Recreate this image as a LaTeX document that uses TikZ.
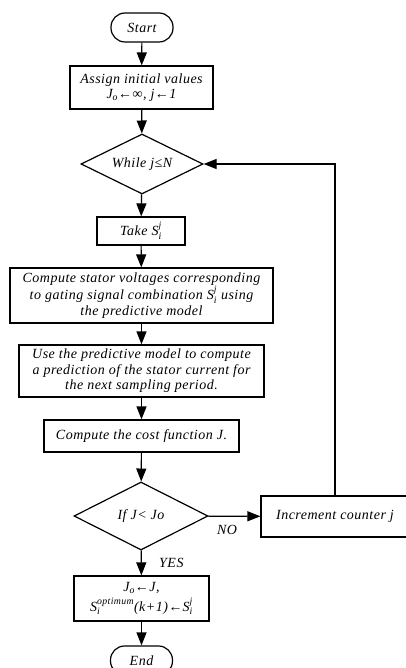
\documentclass[tikz,border=0pt]{standalone}
\usepackage{amsmath}
\usepackage{fontspec}
\setmainfont[LetterSpace=3.5]{Liberation Serif}
\usetikzlibrary{arrows.meta,shapes.geometric,positioning}

\newcommand{\Sij}{$\textit{S}_{\textit{i}}^{\textit{j}}$}

\begin{document}
\begin{tikzpicture}[x=1pt,y=-1pt,
		box/.style={draw,line width=1.2pt,inner sep=0pt,align=center,font=\fontsize{14}{15.5}\selectfont\itshape},
		term/.style={box,rounded corners=14pt,minimum width=62pt,minimum height=29pt},
		decision/.style={box,diamond,aspect=2},
		flow/.style={-{Triangle[length=13pt,width=10pt]},line width=1.2pt},
		lbl/.style={font=\fontsize{14}{15.5}\selectfont\itshape}]
		\useasboundingbox (0,0) rectangle (406,668);
		\clip (0,0) rectangle (406,668);
		\fill [white] (0,0) rectangle (406,668);

		\node [term] (START) at (142,27.5) {Start};
		\node [box,minimum width=143pt,minimum height=43pt] (INIT) at (141.5,87.5) {Assign initial values\\\textit{J}\textsubscript{\textit{o}}←∞, \textit{j}←\textit{1}};
		\node [decision,minimum width=122pt,minimum height=60pt] (WHILE) at (142,164) {While \textit{j}≤\textit{N}};
		\node [box,minimum width=88pt,minimum height=28pt] (TAKE) at (141,231) {Take \Sij};
		\node [box,minimum width=263pt,minimum height=55pt] (VOLT) at (141.5,295.5) {Compute stator voltages corresponding\\to gating signal combination \Sij\ using\\the predictive model};
		\node [box,minimum width=245pt,minimum height=52pt] (PRED) at (141.5,371) {Use the predictive model to compute\\a prediction of the stator current for\\the next sampling period.};
		\node [box,minimum width=195pt,minimum height=32pt] (COST) at (141.5,436) {Compute the cost function \textit{J}.};
		\node [decision,minimum width=134pt,minimum height=68pt] (IFJ) at (141,516) {If \textit{J}< \textit{Jo}};
		\node [box,minimum width=148pt,minimum height=41pt] (INCR) at (335,516.5) {Increment counter \textit{j}};
		\node [box,minimum width=135pt,minimum height=45pt] (OPT) at (141.5,598.5) {\textit{J}\textsubscript{\textit{o}}←\textit{J},\\[3pt]$\textit{S}_{\textit{i}}^{\textit{optimum}}$(\textit{k}+\textit{1})←\Sij};
		\node [term] (END) at (141.5,660.5) {End};

		\draw [flow] (START) -- (INIT);
		\draw [flow] (INIT) -- (WHILE);
		\draw [flow] (WHILE) -- (TAKE);
		\draw [flow] (TAKE) -- (VOLT);
		\draw [flow] (VOLT) -- (PRED);
		\draw [flow] (PRED) -- (COST);
		\draw [flow] (COST) -- (IFJ);
		\draw [flow] (IFJ) -- node[lbl,pos=0.36,below=5pt]{NO} (INCR);
		\draw [flow] (IFJ) -- node[lbl,right=14pt]{YES} (OPT);
		\draw [flow] (OPT) -- (END);
		\draw [flow] (INCR.north) |- (WHILE.east);

	\end{tikzpicture}
\end{document}
